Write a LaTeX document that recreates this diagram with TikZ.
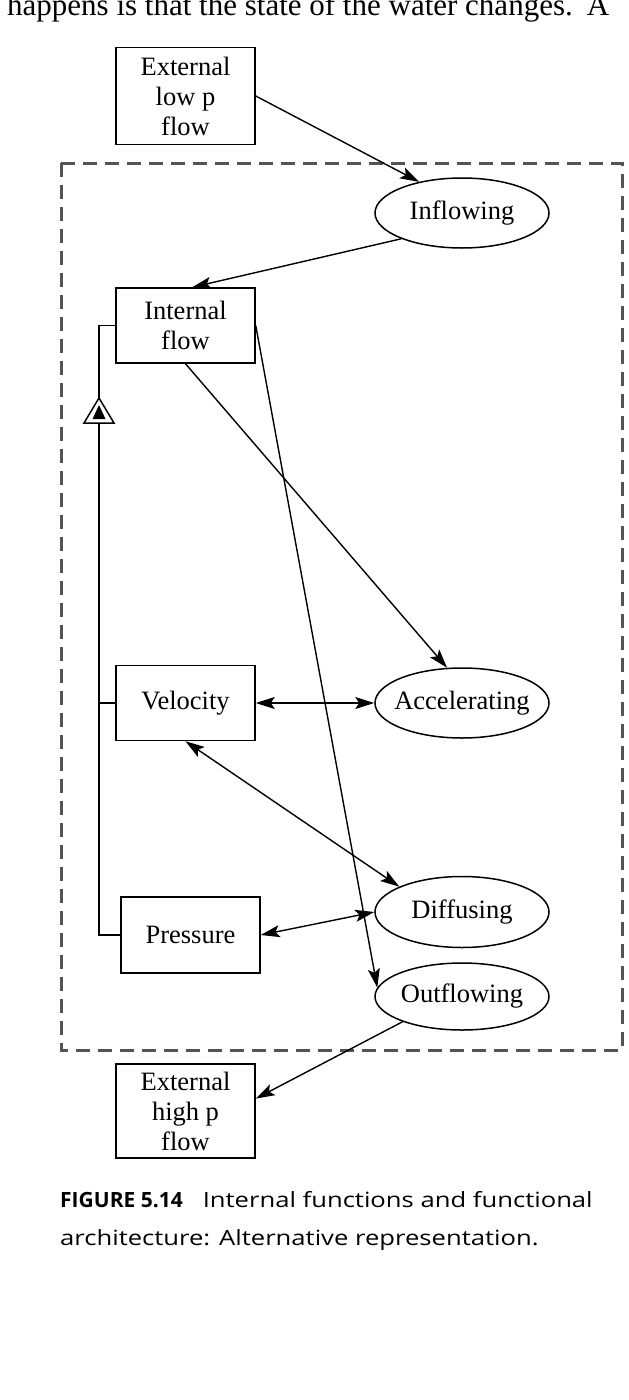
\documentclass[tikz,border=0pt]{standalone}
\usepackage{fontspec}
\setmainfont{Liberation Serif}
\newfontfamily\capfont[FakeStretch=1.22]{Open Sans}
\newfontfamily\capbold{Open Sans}
\usetikzlibrary{shapes.geometric, arrows.meta}

\begin{document}
\begin{tikzpicture}[x=1pt, y=-1pt,
    blk/.style={draw, line width=1.5pt, minimum width=139pt, minimum height=75pt, align=center, inner sep=3pt, font=\fontsize{26.5}{30}\selectfont},
    fn/.style={draw, ellipse, line width=1.5pt, minimum width=174pt, minimum height=70pt, inner sep=0pt, font=\fontsize{26.5}{30}\selectfont},
    flow/.style={line width=1.4pt, -{Stealth[length=19pt, width=12pt, inset=4pt]}},
    twoway/.style={line width=1.4pt, {Stealth[length=19pt, width=12pt, inset=4pt]}-{Stealth[length=19pt, width=12pt, inset=4pt]}},
    frame/.style={draw=black!67, line width=3pt, dash pattern=on 14pt off 8pt}]
    \useasboundingbox (0,0) rectangle (629,1400);

    \node[anchor=base west, inner sep=0pt, font=\fontsize{31}{36}\selectfont] (prev) at (7,16) {happens is that the state of the water changes.\hspace{14pt}A};

    \draw[frame] (61,163) rectangle (622,1050);

    \node[blk, minimum height=97pt] (extlow) at (185.5,96) {External\\low p\\flow};
    \node[fn] (infl) at (462,213) {Inflowing};
    \node[blk] (intflow) at (185.5,325.5) {Internal\\flow};
    \node[blk] (velo) at (185.5,703) {Velocity};
    \node[fn, inner xsep=-7pt] (accel) at (462,703) {Accelerating};
    \node[fn, minimum height=71pt] (diff) at (462,912) {Diffusing};
    \node[blk, minimum height=76pt] (pres) at (190.5,935) {Pressure};
    \node[fn, minimum height=67pt] (outfl) at (462,996.5) {Outflowing};
    \node[blk, minimum height=94pt] (exthigh) at (185.5,1111) {External\\high p\\flow};

    \coordinate (tri) at (99,398);
    \coordinate (trib) at (99,423);
    \draw[line width=1.5pt] (intflow.west) -| (tri);
    \draw[line width=1.5pt] (trib) |- (pres.west);
    \draw[line width=1.5pt] (velo.west) -- (velo.west -| trib);
    \draw[line width=1.5pt] (tri) -- ++(-15,25) -- ++(30,0) -- cycle;
    \fill (tri) ++(0,7) -- ++(-6.5,14) -- ++(13,0) -- cycle;

    \draw[flow] (extlow.east) -- (infl.144);
    \draw[flow] (infl.203) -- (intflow.80);
    \draw[flow] (intflow.south) -- (accel.113);
    \draw[flow] (intflow.east) -- (outfl.174);
    \draw[twoway] (velo.east) -- (accel.west);
    \draw[twoway] (velo.south) -- (diff.158);
    \draw[twoway] (pres.east) -- (diff.west);
    \draw[flow] (outfl.203) -- (exthigh.10);

    \node[anchor=base west, inner sep=0pt, font=\fontsize{21}{25}\selectfont] (cap1) at (60,1207) {{\capbold\bfseries FIGURE 5.14}\hspace{20pt}{\capfont Internal functions and functional}};
    \node[anchor=base west, inner sep=0pt, font=\capfont\fontsize{21}{25}\selectfont] (cap2) at (60,1245) {architecture: Alternative representation.};
\end{tikzpicture}
\end{document}
